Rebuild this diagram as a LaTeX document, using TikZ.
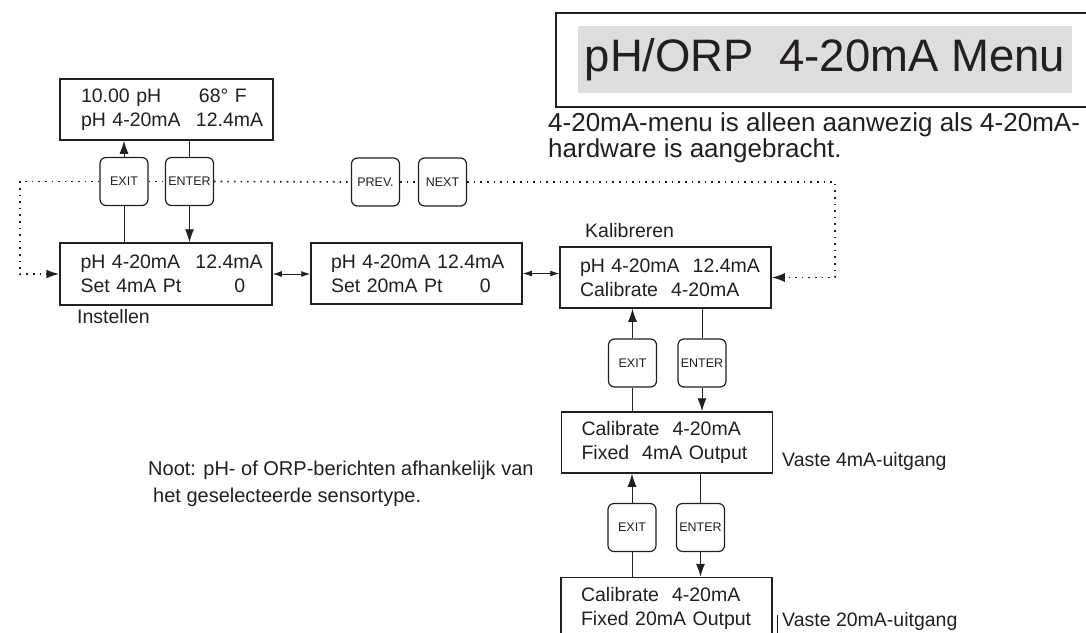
\documentclass[tikz,border=0pt]{standalone}
\usepackage{fontspec}
\setmainfont{Liberation Sans}
\definecolor{inkblack}{RGB}{35, 31, 32}
\definecolor{titlegray}{RGB}{221, 221, 221}
\usetikzlibrary{arrows.meta, positioning, calc}

\begin{document}
\begin{tikzpicture}[x=1pt, y=-1pt,
  lcd/.style={draw=inkblack, line width=1.5pt, minimum width=211pt, minimum height=61pt, inner sep=0pt, text width=171pt, align=left, font=\fontsize{19.5}{24}\selectfont, text=inkblack},
  key/.style={draw=inkblack, fill=white, line width=1.2pt, rounded corners=6pt, minimum width=48pt, minimum height=48pt, inner sep=0pt, font=\fontsize{12.5}{14}\selectfont, text=inkblack},
  lbl/.style={anchor=base west, inner sep=0pt, font=\fontsize{19.5}{24}\selectfont, text=inkblack},
  wire/.style={draw=inkblack, line width=0.9pt},
  tip/.style={-{Latex[length=13pt, width=9pt]}},
  both/.style={{Latex[length=9pt, width=6pt]}-{Latex[length=9pt, width=6pt]}},
  loopline/.style={draw=inkblack, line width=1.6pt, dash pattern=on 1.6pt off 5pt}
]
  \useasboundingbox (0,0) rectangle (1086,632);

  % Title
  \node[draw=inkblack, line width=1.5pt, minimum width=534pt, minimum height=94pt, inner sep=0pt] (frame) at (823,60) {};
  \node[fill=titlegray, minimum width=494pt, minimum height=67pt, inner sep=0pt, font=\fontsize{45.5}{50}\selectfont, text=inkblack] (title) at (825,59.5) {pH/ORP\ \ 4-20mA Menu};
  \node[anchor=west, inner sep=0pt, align=left, font=\fontsize{26}{26}\selectfont, text=inkblack] (hint) at (548,138) {4-20mA-menu is alleen aanwezig als 4-20mA-\\hardware is aangebracht.};

  % Display screens
  \node[lcd, minimum width=213pt] (top) at (166.5,109.5) {\makebox[118pt][l]{10.00 pH}68° F\\\makebox[115pt][l]{pH 4-20mA}12.4mA};
  \node[lcd, minimum width=212pt, minimum height=62pt] (set4) at (166,274) {\makebox[115pt][l]{pH 4-20mA}12.4mA\\\makebox[154pt][l]{Set 4mA Pt}0};
  \node[lcd] (set20) at (416.5,273.5) {\mbox{pH 4-20mA 12.4mA}\\\makebox[149pt][l]{Set 20mA Pt}0};
  \node[lcd] (cal) at (665.5,277.5) {\mbox{pH 4-20mA\ \ 12.4mA}\\\mbox{Calibrate\ \ 4-20mA}};
  \node[lcd] (fix4) at (667,442.5) {\mbox{Calibrate\ \ 4-20mA}\\\mbox{Fixed\ \ 4mA Output}};
  \node[lcd] (fix20) at (666.5,608) {\mbox{Calibrate\ \ 4-20mA}\\\mbox{Fixed 20mA Output}};

  % Keys
  \node[key] (exitA) at (124,181.5) {EXIT};
  \node[key] (enterA) at (189.5,181.5) {ENTER};
  \node[key] (prev) at (375.5,182) {PREV.};
  \node[key] (next) at (442.5,182) {NEXT};
  \node[key] (exitB) at (632.5,363) {EXIT};
  \node[key] (enterB) at (702,363) {ENTER};
  \node[key] (exitC) at (632,527.5) {EXIT};
  \node[key] (enterC) at (700.5,527.5) {ENTER};

  % Labels
  \node[lbl] (kal) at (585,237) {Kalibreren};
  \node[lbl] (inst) at (77,323) {Instellen};
  \node[lbl] (v4) at (782,466) {Vaste 4mA-uitgang};
  \node[lbl] (v20) at (782,626) {Vaste 20mA-uitgang};
  \node[anchor=west, inner sep=0pt, align=left, font=\fontsize{20}{27}\selectfont, text=inkblack] (noot) at (148,484) {Noot: pH- of ORP-berichten afhankelijk van\\\hspace{5pt}het geselecteerde sensortype.};
  \draw[wire] ($(v20.base west)+(-5,-11)$) -- ++(0,30);

  % Top loop
  \draw[wire, tip] (exitA.north) -- (exitA.north |- top.south);
  \draw[wire] (exitA.south) -- (exitA.south |- set4.north);
  \draw[wire] (top.south -| enterA.north) -- (enterA.north);
  \draw[wire, tip] (enterA.south) -- (enterA.south |- set4.north);

  % Calibration column
  \draw[wire, tip] (exitB.north) -- (exitB.north |- cal.south);
  \draw[wire] (exitB.south) -- (exitB.south |- fix4.north);
  \draw[wire] (cal.south -| enterB.north) -- (enterB.north);
  \draw[wire, tip] (enterB.south) -- (enterB.south |- fix4.north);
  \draw[wire, tip] (exitC.north) -- (exitC.north |- fix4.south);
  \draw[wire] (exitC.south) -- (exitC.south |- fix20.north);
  \draw[wire] (fix4.south -| enterC.north) -- (enterC.north);
  \draw[wire, tip] (enterC.south) -- (enterC.south |- fix20.north);

  % Between screens
  \draw[wire, both] (set4.east) -- (set4.east -| set20.west);
  \draw[wire, both] (set20.east) -- (set20.east -| cal.west);

  % PREV / NEXT loop
  \coordinate (lbend) at (20,183);
  \coordinate (rbend) at (835,183);
  \draw[loopline, tip] (exitA.west) -| (lbend |- set4.west) -- (set4.west);
  \draw[loopline] (exitA.east) -- (enterA.west);
  \draw[loopline] (enterA.east) -- (prev.west);
  \draw[loopline] (prev.east) -- (next.west);
  \draw[loopline, tip] (next.east) -| (rbend |- cal.east) -- (cal.east);
\end{tikzpicture}
\end{document}
